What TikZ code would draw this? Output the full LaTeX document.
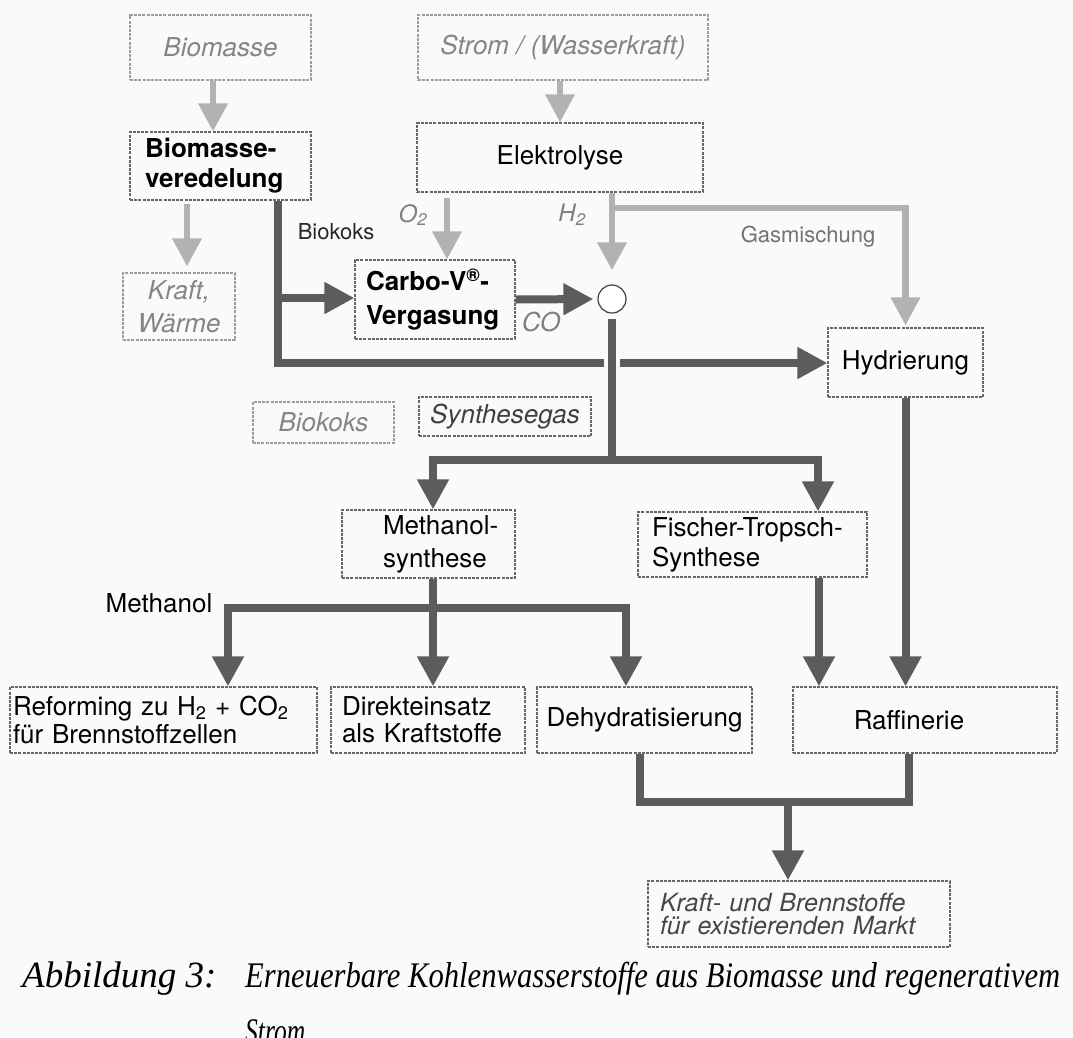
\documentclass[tikz,border=0pt]{standalone}
\usepackage{fontspec}
\usepackage{graphicx}
\setmainfont{TeX Gyre Heros}
\newfontfamily\capfont{Liberation Serif}
\usetikzlibrary{arrows.meta,calc}
\newcommand\setfs[2]{\fontsize{#1}{#2}\selectfont}
\begin{document}
\begin{tikzpicture}[x=1pt,y=-1pt,
  box/.style={draw=black!60, line width=1.1pt, dash pattern=on 3pt off 1.2pt, inner sep=0pt, text=black, font=\setfs{26}{30}},
  pale/.style={draw=black!38, text=black!48, font=\setfs{26}{33}\itshape},
  flow/.style={draw=black!64, line width=8pt, line join=miter, -{Triangle[width=30pt,length=30pt]}},
  pipe/.style={draw=black!64, line width=8pt, line join=miter},
  lflow/.style={draw=black!30, line width=6.5pt, line join=miter, -{Triangle[width=28pt,length=28pt]}},
  tag/.style={inner sep=0pt, font=\setfs{22}{26}},
  captext/.style={anchor=base west, inner sep=0pt, font=\capfont\itshape\setfs{36}{40}}
]
\fill[black!2] (0,0) rectangle (1073,1037);
\useasboundingbox (0,0) rectangle (1073,1037);

% boxes
\node[box, pale, minimum width=181pt, minimum height=65pt] (bio) at (220.5,47.5) {Biomasse};
\node[box, pale, minimum width=290pt, minimum height=65pt] (strom) at (563,47.5) {Strom / (Wasserkraft)};
\node[box, font=\setfs{26}{30}\bfseries, align=left, text width=151pt, inner xsep=15pt, minimum height=68pt] (vered) at (220.5,166) {Biomasse-\\veredelung};
\node[box, minimum width=286pt, minimum height=69pt] (elek) at (560,157.5) {Elektrolyse};
\node[box, pale, minimum width=112pt, minimum height=67pt, align=center] (kraft) at (179,306.5) {Kraft,\\Wärme};
\node[box, font=\setfs{26}{34}\bfseries, align=left, text width=138pt, inner xsep=11pt, minimum height=79pt] (carbo) at (435,299.5) {Carbo-V\textsuperscript{®}-\\Vergasung};
\node[circle, draw=black!75, line width=1.2pt, minimum size=28pt, inner sep=0pt, fill=white] (circ) at (612,299) {};
\node[box, minimum width=155pt, minimum height=69pt] (hyd) at (905.5,362.5) {Hydrierung};
\node[box, pale, minimum width=141pt, minimum height=41pt] (biok) at (323.5,422.5) {Biokoks};
\node[box, minimum width=172pt, minimum height=39pt, text=black!75, font=\setfs{26}{30}\itshape] (syn) at (505,416.5) {Synthesegas};
\node[box, minimum height=68pt, align=left, text width=151pt, inner xsep=11pt, font=\setfs{26}{33}] (meth) at (428.5,544) {\hspace*{30pt}Methanol-\\\hspace*{30pt}synthese};
\node[box, minimum height=65pt, align=left, text width=201pt, inner xsep=14pt, font=\setfs{26}{30}] (ft) at (752.5,544.5) {Fischer-Tropsch-\\Synthese};
\node[box, align=left, text width=301pt, inner xsep=3pt, minimum height=66pt, font=\setfs{26}{28}] (ref) at (163.5,720) {Reforming zu H\textsubscript{2} + CO\textsubscript{2}\\für Brennstoffzellen};
\node[box, align=left, text width=172pt, inner xsep=11pt, minimum height=66pt, font=\setfs{26}{27}] (dir) at (428,720) {Direkteinsatz\\als Kraftstoffe};
\node[box, minimum width=215pt, minimum height=66pt] (deh) at (644.5,720) {Dehydratisierung};
\node[box, minimum width=264pt, minimum height=66pt] (raf) at (925,720) {Raffinerie\hspace*{32pt}};
\node[box, align=left, text width=278pt, inner xsep=12pt, minimum height=66pt, text=black!72, font=\setfs{25}{23}\itshape] (mkt) at (799,914) {Kraft- und Brennstoffe\\für existierenden Markt};

% free labels
\node[tag, text=black!85] (lbk) at (336,232) {Biokoks};
\node[tag, text=black!50, font=\setfs{24}{28}\itshape] (lo2) at (413,215) {O\textsubscript{2}};
\node[tag, text=black!50, font=\setfs{24}{28}\itshape] (lh2) at (572,215) {H\textsubscript{2}};
\node[tag, text=black!55] (lgas) at (808,237) {Gasmischung};
\node[tag, text=black!50, font=\setfs{26}{30}\itshape] (lco) at (541,322) {CO};
\node[tag, text=black, font=\setfs{26}{30}] (lmeth) at (159,603) {Methanol};

% junction coordinates
\coordinate (xb) at (213,100);
\coordinate (xk) at (187,240);
\coordinate (jo) at (447,230);
\coordinate (jh) at (612,208);
\coordinate (jbk) at (278,298);
\coordinate (jbb) at (278,363);
\coordinate (jsyn) at (612,460);
\coordinate (jm) at (433,460);
\coordinate (jf) at (818,460);
\coordinate (jmeth) at (433,608);
\coordinate (jr) at (228,608);
\coordinate (jd) at (626,608);
\coordinate (xft) at (819,600);
\coordinate (jb1) at (640,802);
\coordinate (jb2) at (909,802);
\coordinate (jb) at (788,802);

% light flows
\draw[lflow] (bio.south -| xb) -- (xb |- vered.north);
\draw[lflow] (strom.south -| elek.north) -- (elek.north);
\draw[lflow, shorten <=3pt, shorten >=6pt] (vered.south -| xk) -- (xk |- kraft.north);
\draw[lflow, shorten <=5pt] (elek.south -| jo) -- (jo |- carbo.north);
\draw[lflow, shorten >=14pt] (elek.south -| jh) -- (circ.north);
\draw[lflow, shorten >=2pt] (jh) -| (hyd.north);

% dark flows
\draw[flow] (vered.south -| jbb) -- (jbb) -- (jbb -| hyd.west);
\draw[flow] (jbk) -- (jbk -| carbo.west);
\draw[flow, shorten >=4pt] (carbo.east) -- (circ.west);
\draw[pipe, shorten <=5pt, preaction={draw=black!2, line width=16pt}] (circ.south) -- (jsyn);
\draw[flow] (jsyn) -- (jm) -- (jm |- meth.north);
\draw[flow] (jsyn) -- (jf) -- (jf |- ft.north);
\draw[flow] (meth.south -| jmeth) -- (jmeth |- dir.north);
\draw[flow] (jmeth) -- (jr) -- (jr |- ref.north);
\draw[flow] (jmeth) -- (jd) -- (jd |- deh.north);
\draw[flow] (ft.south -| xft) -- (xft |- raf.north);
\draw[flow] (hyd.south) -- (hyd.south |- raf.north);
\draw[pipe] (deh.south -| jb1) -- (jb1) -- (jb2) -- (raf.south -| jb2);
\draw[flow] (jb) -- (jb |- mkt.north);

% caption
\node[captext, font=\capfont\itshape\setfs{37}{40}] (cap1) at (22,987) {Abbildung 3:};
\node[captext] (cap2) at (245,987) {\resizebox{815pt}{\height}{Erneuerbare Kohlenwasserstoffe aus Biomasse und regenerativem}};
\node[captext] (cap3) at (245,1043) {\resizebox{60pt}{\height}{Strom}};
\end{tikzpicture}
\end{document}
